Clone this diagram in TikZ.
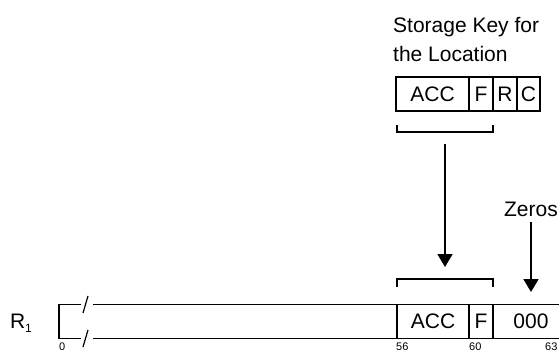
\documentclass[tikz,border=0pt]{standalone}
\usepackage{fontspec}
\setmainfont{Liberation Sans}
\usetikzlibrary{arrows.meta}
\begin{document}
\begin{tikzpicture}[x=1pt,y=-1pt,
  ln/.style={line width=1.8pt},
  lbl/.style={font=\fontsize{21}{24}\selectfont, inner sep=0pt},
  small/.style={font=\fontsize{11}{12}\selectfont, inner sep=0pt, anchor=north west},
  cell/.style={draw, line width=1.8pt, minimum height=34pt, inner sep=0pt, font=\fontsize{21}{24}\selectfont},
  arr/.style={line width=1.8pt, -{Triangle[width=15pt,length=13pt]}}]
\useasboundingbox (0,0) rectangle (559,354);
% title
\node[lbl, anchor=base west] (t1) at (393,32) {Storage Key for};
\node[lbl, anchor=base west] (t2) at (393,61) {the Location};
% storage key cells
\node[cell, minimum width=73pt] (kacc) at (432.5,94) {ACC};
\node[cell, minimum width=24pt] (kf) at (481,94) {F};
\node[cell, minimum width=24pt] (kr) at (505,94) {R};
\node[cell, minimum width=23pt] (kc) at (528.5,94) {C};
% upper bracket
\coordinate (ub1) at (397,125);
\coordinate (ub2) at (397,132);
\coordinate (ub3) at (493,132);
\coordinate (ub4) at (493,125);
\draw[ln] (ub1) -- (ub2) -- (ub3) -- (ub4);
\coordinate (ubstart) at (445,144);
% lower bracket
\coordinate (lb1) at (397,287);
\coordinate (lb2) at (397,279);
\coordinate (lb3) at (493,279);
\coordinate (lb4) at (493,287);
\draw[ln] (lb1) -- (lb2) -- (lb3) -- (lb4);
\coordinate (lbtop) at (445,267);
\draw[arr] (ubstart) -- (lbtop);
% zeros
\node[lbl] (zeros) at (531,209) {Zeros};
\coordinate (zstart) at (531,222);
\coordinate (ztip) at (531,292);
\draw[arr] (zstart) -- (ztip);
% register
\node[lbl, anchor=base] (r1) at (21,328) {R\raisebox{-4pt}{\fontsize{12}{14}\selectfont 1}};
\coordinate (rtl) at (59,304.5);
\coordinate (rbl) at (59,338.5);
\draw[ln] (81,304.5) -- (rtl) -- (rbl) -- (81,338.5);
\draw[line width=1.2pt] (83,313) -- (88,296);
\draw[line width=1.2pt] (83,347) -- (88,330);
\draw[ln] (93,304.5) -- (562,304.5);
\draw[ln] (93,338.5) -- (562,338.5);
\node[cell, minimum width=72pt, draw=none] (racc) at (433,321.5) {ACC};
\node[cell, minimum width=24pt, draw=none] (rf) at (481,321.5) {F};
\node[lbl] (rz) at (531,321.5) {000};
\draw[ln] (397,304.5) -- (397,338.5);
\draw[ln] (469,304.5) -- (469,338.5);
\draw[ln] (493,304.5) -- (493,338.5);
% bit labels
\node[small] (b0) at (59,343) {0};
\node[small] (b56) at (396,343) {56};
\node[small] (b60) at (469,343) {60};
\node[small] (b63) at (545,343) {63};
\end{tikzpicture}
\end{document}
